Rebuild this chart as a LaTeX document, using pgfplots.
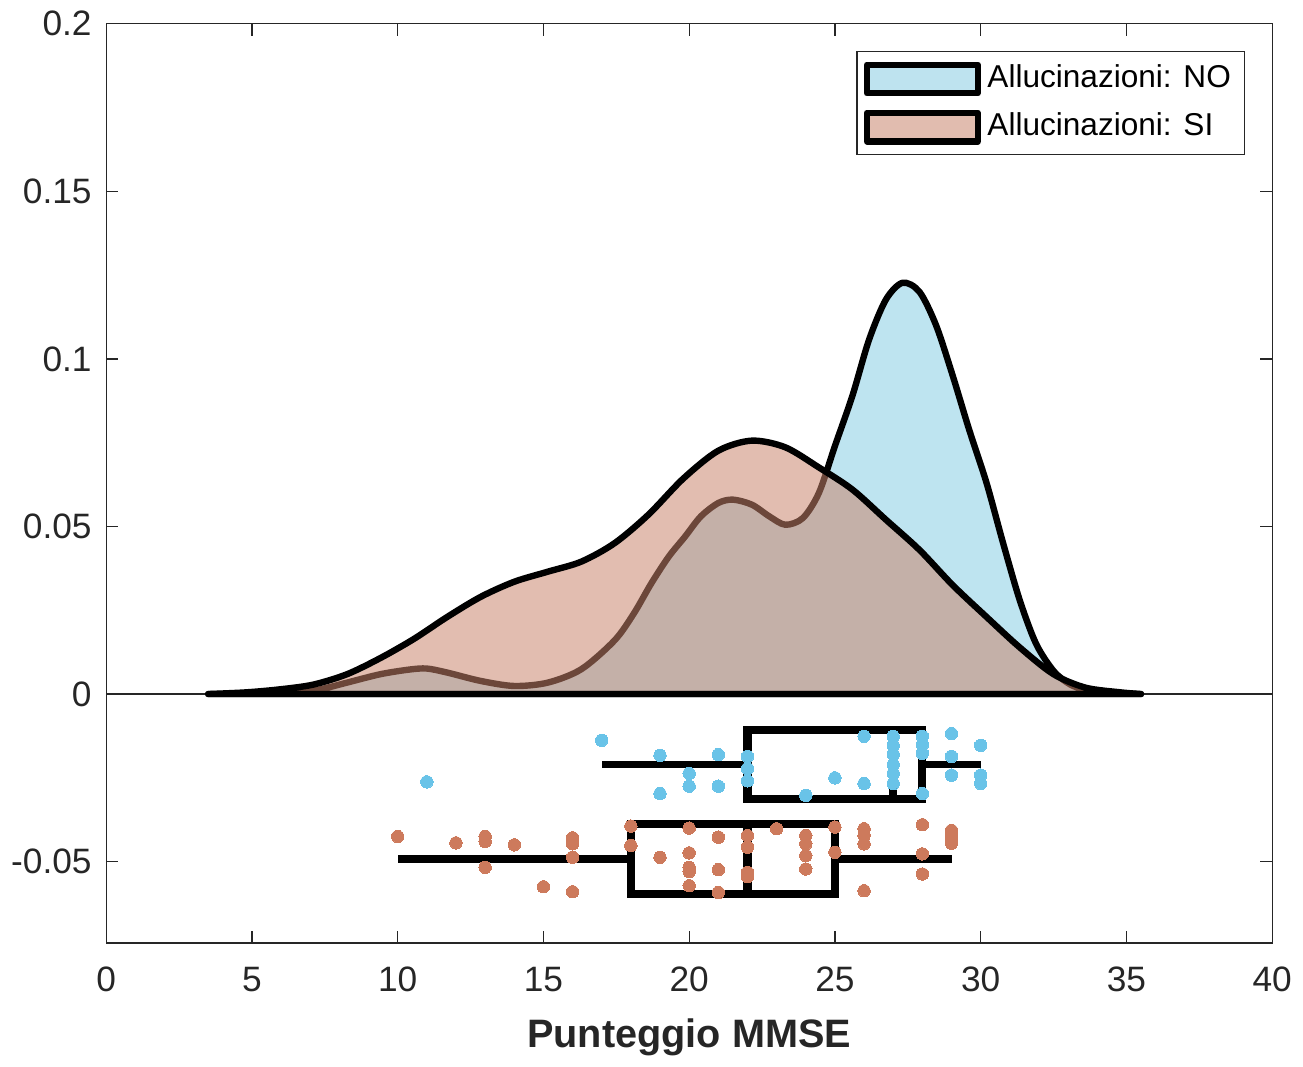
\documentclass[border=0pt]{standalone}
\usepackage{pgfplots}
\pgfplotsset{compat=1.18}
\usepgfplotslibrary{statistics}
\usepackage{fontspec}
\setmainfont{Liberation Sans}
\definecolor{axgray}{RGB}{38,38,38}
\definecolor{noblue}{RGB}{135,205,227}
\definecolor{siorange}{RGB}{201,133,109}
\definecolor{ptblue}{RGB}{105,195,232}
\definecolor{ptorange}{RGB}{205,122,92}
\begin{document}
\begin{tikzpicture}
\begin{axis}[
  scale only axis, width=347pt, height=273.6pt,
  xmin=0, xmax=40, ymin=-0.0743, ymax=0.2,
  xtick={0,5,...,40}, ytick={-0.05,0,0.05,0.1,0.15,0.2},
  scaled y ticks=false,
  yticklabel style={/pgf/number format/fixed, /pgf/number format/precision=2, xshift=-0.8pt},
  xticklabel style={yshift=-3.6pt},
  /pgf/number format/assume math mode=true,
  tick align=inside, major tick length=3.6pt,
  axis line style={axgray, line width=0.4pt},
  every tick/.style={axgray, line width=0.4pt},
  tick label style={font=\fontsize{10.5}{12}\selectfont, text=axgray},
  xlabel={Punteggio MMSE},
  xlabel style={font=\fontsize{11.8}{13}\selectfont\bfseries, text=axgray, yshift=-1pt},
  legend style={at={(0.9767,0.9704)}, anchor=north east, draw=axgray, line width=0.4pt,
     font=\fontsize{9.4}{10.5}\selectfont, row sep=2pt, inner xsep=2pt, inner ysep=2pt},
  legend cell align=left,
  legend image code/.code={\draw[#1, line width=1.8pt] (0pt,-4.3pt) rectangle (33pt,4.3pt);},
  boxplot/every box/.style={draw=black, line width=2.4pt, line join=miter},
  boxplot/every whisker/.style={draw=black, line width=2.2pt},
  boxplot/every median/.style={draw=black, line width=2.4pt},
]
\addplot[axgray, line width=0.5pt, forget plot] coordinates {(0,0) (40,0)};

\addplot[draw=black, line width=1.9pt, fill=noblue, fill opacity=0.54, smooth, line join=round] coordinates {
(3.5,0) (5,0.0001) (6.5,0.0005) (7.3,0.0013) (8.26,0.0034) (9.4,0.0059) (10.4,0.0073) (11.0,0.0076) (11.7,0.0064) (12.85,0.0039) (14.0,0.0024) (15.15,0.0034) (16.3,0.0074) (17.44,0.016) (18.1,0.024) (18.7,0.033) (19.3,0.041) (19.86,0.047) (20.4,0.053) (21.0,0.057) (21.5,0.058) (22.15,0.0565) (22.75,0.053) (23.3,0.0505) (23.9,0.0525) (24.45,0.060) (25.0,0.074) (25.6,0.089) (26.17,0.1057) (26.75,0.1177) (27.32,0.1227) (27.9,0.120) (28.47,0.110) (29.04,0.095) (29.6,0.079) (30.2,0.063) (30.77,0.045) (31.34,0.028) (31.9,0.015) (32.5,0.0069) (33.06,0.0029) (33.6,0.0013) (34.5,0.0003) (35.5,0)
} \closedcycle;
\addlegendentry{Allucinazioni: NO}

\addplot[draw=black, line width=1.9pt, fill=siorange, fill opacity=0.54, smooth, line join=round] coordinates {
(3.5,0) (4.8,0.0005) (5.96,0.0014) (7.1,0.0028) (8.26,0.0059) (9.4,0.0107) (10.55,0.0164) (11.7,0.023) (12.85,0.029) (14.0,0.0335) (15.15,0.0365) (16.3,0.0395) (17.44,0.045) (18.6,0.0535) (19.8,0.0643) (21.0,0.0726) (22.15,0.0756) (23.3,0.0736) (24.45,0.0676) (25.6,0.061) (26.75,0.052) (27.9,0.043) (29.04,0.0325) (30.2,0.023) (31.34,0.0139) (32.5,0.0059) (33.6,0.0019) (34.8,0.0005) (35.5,0)
} \closedcycle;
\addlegendentry{Allucinazioni: SI}

\addplot[only marks, mark=*, mark size=1.85pt, color=ptblue, mark options={fill=ptblue, draw=ptblue, line width=0pt}, forget plot] coordinates {
(11,-0.0262) (17,-0.0138) (19,-0.0183) (19,-0.0297) (20,-0.0237) (20,-0.0275) (21,-0.0181) (21,-0.0275) (22,-0.0186) (22,-0.0222) (22,-0.0259) (24,-0.0302) (25,-0.025) (26,-0.0126) (26,-0.0267) (27,-0.0126) (27,-0.0153) (27,-0.018) (27,-0.0211) (27,-0.0237) (27,-0.0267) (28,-0.0126) (28,-0.0151) (28,-0.0177) (28,-0.0297) (29,-0.0118) (29,-0.0186) (29,-0.0242) (30,-0.0153) (30,-0.0242) (30,-0.0267)
};
\addplot[only marks, mark=*, mark size=1.85pt, color=ptorange, mark options={fill=ptorange, draw=ptorange, line width=0pt}, forget plot] coordinates {
(10,-0.0425) (12,-0.0444) (13,-0.0425) (13,-0.0440) (13,-0.0517) (14,-0.045) (15,-0.0575) (16,-0.0429) (16,-0.0447) (16,-0.0487) (16,-0.059) (18,-0.0394) (18,-0.0452) (19,-0.0487) (20,-0.04) (20,-0.0474) (20,-0.0517) (20,-0.0530) (20,-0.0572) (21,-0.0427) (21,-0.0524) (21,-0.0592) (22,-0.0422) (22,-0.0457) (22,-0.0532) (22,-0.0545) (23,-0.0402) (24,-0.0422) (24,-0.0447) (24,-0.0482) (24,-0.0522) (25,-0.0397) (25,-0.0472) (26,-0.0402) (26,-0.0422) (26,-0.0447) (26,-0.0587) (28,-0.039) (28,-0.0477) (28,-0.0537) (29,-0.0407) (29,-0.0425) (29,-0.0445)
};

\addplot[black, line width=2.2pt, line join=miter, forget plot,
  boxplot prepared={lower whisker=17, lower quartile=22, median=27, upper quartile=28, upper whisker=30,
  draw position=-0.021, box extend=0.0206, whisker extend=0}] coordinates {};
\addplot[black, line width=2.2pt, line join=miter, forget plot,
  boxplot prepared={lower whisker=10, lower quartile=18, median=22, upper quartile=25, upper whisker=29,
  draw position=-0.0492, box extend=0.021, whisker extend=0}] coordinates {};
\end{axis}
\end{tikzpicture}
\end{document}
